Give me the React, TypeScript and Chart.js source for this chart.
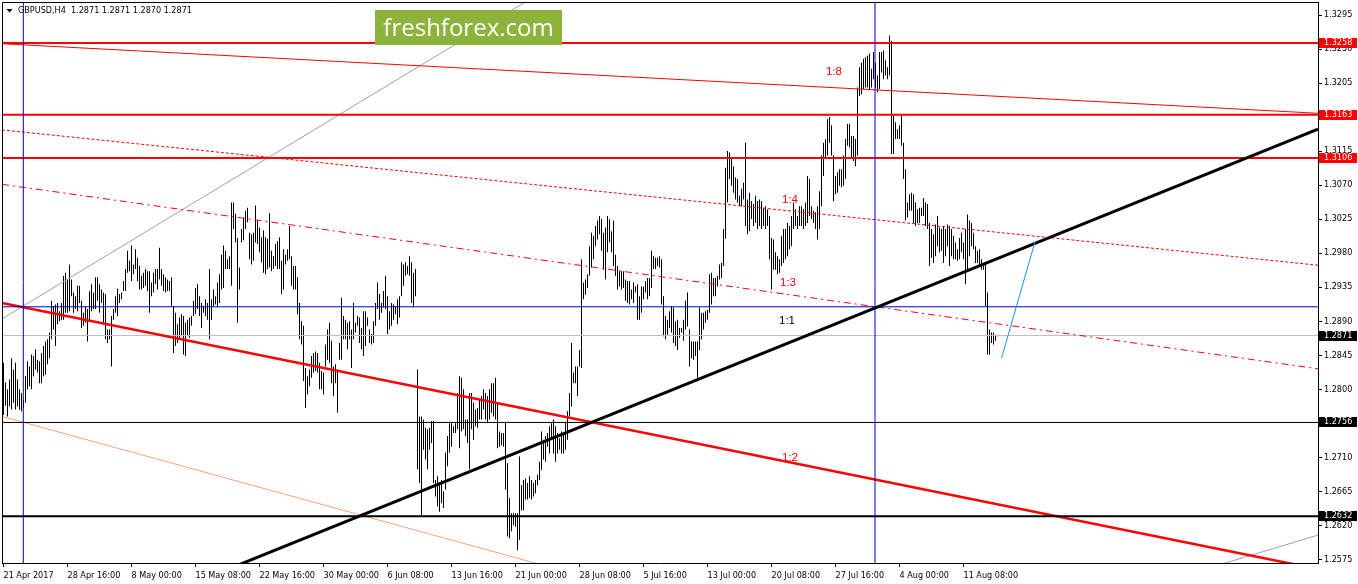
import React, { useEffect, useRef } from "react";
import { Chart, registerables } from "chart.js";

Chart.register(...registerables);

// ---------------- data ----------------
const symbolName = "GBPUSD,H4";
const lastQuote = ["1.2871", "1.2871", "1.2870", "1.2871"];
const watermarkText = "freshforex.com";

const timeLabels = [
  "21 Apr 2017", "28 Apr 16:00", "8 May 00:00", "15 May 08:00", "22 May 16:00", "30 May 00:00",
  "6 Jun 08:00", "13 Jun 16:00", "21 Jun 00:00", "28 Jun 08:00", "5 Jul 16:00", "13 Jul 00:00",
  "20 Jul 08:00", "27 Jul 16:00", "4 Aug 00:00", "11 Aug 08:00",
];
const timeLabelBars = [0, 32, 64, 96, 128, 160, 192, 224, 256, 288, 320, 352, 384, 416, 448, 480];

const priceTicks = [
  1.2575, 1.262, 1.2665, 1.271, 1.2755, 1.28, 1.2845, 1.289, 1.2935, 1.298, 1.3025, 1.307,
  1.3115, 1.316, 1.3205, 1.325, 1.3295,
];

const highs = [
  1.2835,1.2809,1.2800,1.2813,1.2841,1.2826,1.2835,1.2813,1.2800,1.2795,
  1.2786,1.2817,1.2837,1.2830,1.2846,1.2844,1.2853,1.2839,1.2837,1.2848,
  1.2857,1.2863,1.2866,1.2875,1.2917,1.2910,1.2912,1.2914,1.2903,1.2914,
  1.2950,1.2954,1.2945,1.2965,1.2945,1.2928,1.2923,1.2937,1.2937,1.2917,
  1.2901,1.2910,1.2906,1.2930,1.2939,1.2928,1.2948,1.2948,1.2939,1.2932,
  1.2928,1.2926,1.2879,1.2879,1.2897,1.2906,1.2923,1.2933,1.2926,1.2928,
  1.2943,1.2959,1.2983,1.2970,1.2990,1.2965,1.2985,1.2974,1.2963,1.2950,
  1.2954,1.2959,1.2956,1.2956,1.2941,1.2954,1.2959,1.2959,1.2987,1.2959,
  1.2952,1.2948,1.2945,1.2943,1.2948,1.2910,1.2901,1.2886,1.2895,1.2899,
  1.2897,1.2888,1.2892,1.2895,1.2897,1.2917,1.2934,1.2939,1.2923,1.2914,
  1.2910,1.2919,1.2914,1.2959,1.2919,1.2932,1.2923,1.2941,1.2952,1.2978,
  1.2990,1.2983,1.2972,1.2976,1.3047,1.3047,1.3032,1.3000,1.2961,
  1.3012,1.3027,1.3036,1.3040,1.3007,1.3005,1.3007,1.3043,1.3023,1.3014,
  1.3001,1.3010,1.3001,1.2999,1.3033,1.2983,1.2976,1.2992,1.2996,1.3001,
  1.2970,1.2985,1.2978,1.2985,1.3016,1.2976,1.2963,1.2963,1.2948,1.2914,
  1.2890,1.2884,1.2828,1.2817,1.2826,1.2844,1.2848,1.2850,1.2848,1.2835,
  1.2824,1.2822,1.2859,1.2879,1.2888,1.2864,1.2830,1.2833,1.2826,1.2861,
  1.2921,1.2897,1.2892,1.2888,1.2890,1.2879,1.2914,1.2888,1.2897,1.2895,
  1.2881,1.2903,1.2903,1.2895,1.2879,1.2873,1.2890,1.2914,1.2941,1.2926,
  1.2914,1.2930,1.2950,1.2923,1.2903,1.2914,1.2912,1.2910,1.2919,1.2923,
  1.2968,1.2965,1.2968,1.2963,1.2976,1.2968,1.2954,1.2959,1.2826,1.2764,
  1.2764,1.2760,1.2749,1.2747,1.2749,1.2758,1.2758,1.2680,1.2685,1.2676,
  1.2680,1.2665,1.2716,1.2738,1.2755,1.2755,1.2751,1.2755,1.2795,1.2817,
  1.2815,1.2800,1.2760,1.2760,1.2795,1.2795,1.2782,1.2773,1.2775,1.2786,
  1.2791,1.2800,1.2795,1.2791,1.2800,1.2808,1.2808,1.2815,1.2782,
  1.2744,1.2742,1.2742,1.2757,1.2702,1.2656,1.2636,1.2636,1.2636,1.2636,
  1.2711,1.2673,1.2680,1.2682,1.2676,1.2685,1.2680,1.2676,1.2680,1.2687,
  1.2704,1.2744,1.2733,1.2738,1.2742,1.2751,1.2755,1.2760,1.2751,1.2742,
  1.2735,1.2744,1.2740,1.2757,1.2771,1.2795,1.2861,1.2822,1.2830,1.2830,
  1.2852,1.2972,1.2941,1.2945,1.2952,1.2989,1.3007,1.3003,1.3016,1.3023,
  1.3029,1.3025,1.3007,1.3014,1.3029,1.3025,1.3009,1.3023,1.2978,1.2963,
  1.2956,1.2956,1.2956,1.2945,1.2943,1.2943,1.2932,1.2941,1.2936,1.2939,
  1.2923,1.2936,1.2936,1.2943,1.2947,1.2947,1.2983,1.2976,1.2974,1.2974,
  1.2976,1.2972,1.2923,1.2897,1.2892,1.2903,1.2910,1.2908,1.2890,1.2892,
  1.2881,1.2881,1.2892,1.2917,1.2928,1.2879,1.2863,1.2863,1.2863,1.2863,
  1.2908,1.2901,1.2901,1.2903,1.2905,1.2952,1.2954,1.2947,1.2947,1.2950,
  1.2965,1.2967,1.3012,1.3093,1.3115,1.3113,1.3107,1.3095,1.3080,1.3078,
  1.3056,1.3065,1.3073,1.3126,1.3051,
  1.3060,1.3049,1.3045,1.3056,1.3049,1.3051,1.3049,1.3040,1.3042,1.3038,
  1.3029,1.3000,1.2998,1.2981,1.2976,1.2972,1.3003,1.3012,1.3012,1.3020,
  1.3016,1.3029,1.3047,1.3038,1.3029,1.3042,1.3042,1.3038,1.3047,1.3082,
  1.3078,1.3042,1.3036,1.3034,1.3042,1.3062,1.3109,1.3126,1.3131,1.3157,
  1.3160,1.3149,1.3109,1.3082,1.3087,1.3091,1.3091,1.3109,1.3131,1.3151,
  1.3151,1.3135,1.3135,1.3131,1.3199,1.3226,1.3232,1.3237,1.3239,1.3241,
  1.3244,1.3224,1.3246,1.3232,1.3215,1.3246,1.3246,1.3248,1.3235,1.3226,
  1.3268,1.3261,1.3162,1.3153,1.3144,1.3149,1.3164,1.3126,1.3091,1.3047,
  1.3058,1.3060,1.3058,1.3047,1.3038,1.3040,1.3040,1.3053,1.3047,1.3045,
  1.3020,1.3012,1.3005,1.3018,1.3029,1.3014,1.3012,1.3016,1.3012,1.3018,
  1.3016,1.3012,1.3003,1.2994,1.2985,1.3000,1.3007,1.2994,1.3012,1.3031,
  1.3023,1.3020,1.3007,1.2989,1.2983,1.2985,1.2972,1.2967,1.2967,1.2928,
  1.2879,1.2875,1.2875,1.2872,1.2871,
];

const lows = [
  1.2766,1.2778,1.2764,1.2777,1.2773,1.2782,1.2773,1.2777,1.2773,1.2771,
  1.2775,1.2782,1.2800,1.2804,1.2800,1.2817,1.2826,1.2822,1.2808,1.2808,
  1.2817,1.2819,1.2833,1.2841,1.2866,1.2879,1.2857,1.2886,1.2890,1.2892,
  1.2892,1.2901,1.2901,1.2903,1.2923,1.2901,1.2906,1.2903,1.2914,1.2881,
  1.2884,1.2888,1.2863,1.2890,1.2903,1.2906,1.2906,1.2917,1.2901,1.2914,
  1.2886,1.2866,1.2861,1.2866,1.2830,1.2892,1.2901,1.2897,1.2914,1.2919,
  1.2930,1.2930,1.2954,1.2956,1.2943,1.2952,1.2959,1.2943,1.2932,1.2932,
  1.2934,1.2937,1.2930,1.2901,1.2923,1.2928,1.2939,1.2932,1.2945,1.2937,
  1.2930,1.2928,1.2930,1.2930,1.2910,1.2848,1.2857,1.2861,1.2866,1.2870,
  1.2846,1.2844,1.2870,1.2868,1.2884,1.2897,1.2899,1.2906,1.2897,1.2881,
  1.2901,1.2897,1.2892,1.2866,1.2892,1.2910,1.2912,1.2908,1.2914,1.2932,
  1.2934,1.2959,1.2959,1.2959,1.2937,1.3012,1.2994,1.2888,1.2932,
  1.2994,1.2997,1.3012,1.3021,1.2972,1.2965,1.2970,1.2994,1.2992,1.2981,
  1.2968,1.2954,1.2952,1.2959,1.2961,1.2956,1.2959,1.2963,1.2959,1.2959,
  1.2926,1.2932,1.2965,1.2970,1.2972,1.2937,1.2932,1.2932,1.2899,1.2866,
  1.2859,1.2811,1.2775,1.2793,1.2804,1.2815,1.2822,1.2824,1.2822,1.2800,
  1.2800,1.2793,1.2830,1.2839,1.2835,1.2808,1.2791,1.2808,1.2769,1.2839,
  1.2839,1.2866,1.2866,1.2853,1.2866,1.2828,1.2866,1.2875,1.2884,1.2861,
  1.2853,1.2844,1.2857,1.2884,1.2861,1.2859,1.2861,1.2884,1.2906,1.2892,
  1.2901,1.2908,1.2906,1.2873,1.2879,1.2884,1.2892,1.2899,1.2886,1.2895,
  1.2923,1.2937,1.2950,1.2952,1.2950,1.2914,1.2908,1.2923,1.2694,1.2676,
  1.2633,1.2720,1.2707,1.2694,1.2720,1.2729,1.2676,1.2658,1.2645,1.2638,
  1.2649,1.2643,1.2667,1.2698,1.2716,1.2724,1.2742,1.2742,1.2747,1.2722,
  1.2744,1.2747,1.2738,1.2729,1.2694,1.2747,1.2733,1.2751,1.2749,1.2760,
  1.2760,1.2773,1.2760,1.2755,1.2760,1.2769,1.2764,1.2760,1.2722,
  1.2724,1.2726,1.2724,1.2667,1.2605,1.2603,1.2612,1.2620,1.2618,1.2587,
  1.2601,1.2640,1.2640,1.2654,1.2654,1.2656,1.2654,1.2658,1.2662,1.2673,
  1.2680,1.2693,1.2707,1.2704,1.2724,1.2715,1.2733,1.2715,1.2704,1.2715,
  1.2720,1.2715,1.2715,1.2720,1.2733,1.2764,1.2777,1.2808,1.2808,1.2791,
  1.2830,1.2828,1.2919,1.2925,1.2934,1.2950,1.2961,1.2972,1.2989,1.2998,
  1.3005,1.2983,1.2958,1.2945,1.2981,1.2994,1.2981,1.2963,1.2950,1.2932,
  1.2936,1.2932,1.2934,1.2917,1.2914,1.2912,1.2919,1.2914,1.2928,1.2892,
  1.2892,1.2901,1.2919,1.2928,1.2919,1.2923,1.2934,1.2959,1.2959,1.2963,
  1.2961,1.2912,1.2870,1.2866,1.2872,1.2881,1.2875,1.2861,1.2857,1.2852,
  1.2868,1.2875,1.2864,1.2879,1.2883,1.2830,1.2841,1.2839,1.2844,1.2815,
  1.2852,1.2866,1.2879,1.2888,1.2892,1.2901,1.2912,1.2923,1.2923,1.2936,
  1.2945,1.2947,1.2963,1.2999,1.3047,1.3078,1.3069,1.3060,1.3051,1.3047,
  1.3042,1.3042,1.3051,1.3016,1.3005,
  1.3009,1.3025,1.3016,1.3020,1.3012,1.3016,1.3012,1.3016,1.3012,1.3016,
  1.2972,1.2932,1.2958,1.2958,1.2952,1.2954,1.2963,1.2967,1.2972,1.2976,
  1.2985,1.2989,1.3012,1.3016,1.3012,1.3016,1.3016,1.3012,1.3016,1.3020,
  1.3029,1.3025,1.3020,1.3012,1.2998,1.3012,1.3042,1.3082,1.3107,1.3109,
  1.3126,1.3109,1.3049,1.3058,1.3060,1.3069,1.3067,1.3069,1.3078,1.3122,
  1.3120,1.3107,1.3102,1.3095,1.3109,1.3188,1.3190,1.3197,1.3199,1.3199,
  1.3197,1.3199,1.3210,1.3199,1.3193,1.3197,1.3219,1.3210,1.3215,1.3210,
  1.3215,1.3111,1.3111,1.3131,1.3131,1.3131,1.3122,1.3078,1.3023,1.3027,
  1.3036,1.3036,1.3020,1.3016,1.3020,1.3020,1.3029,1.3029,1.3016,1.3012,
  1.2963,1.2974,1.2967,1.2976,1.2989,1.2981,1.2983,1.2967,1.2976,1.2989,
  1.2963,1.2976,1.2972,1.2972,1.2970,1.2972,1.2981,1.2972,1.2939,1.2958,
  1.2976,1.2989,1.2985,1.2967,1.2967,1.2965,1.2958,1.2958,1.2910,1.2846,
  1.2846,1.2861,1.2859,1.2864,1.2870,
];

// horizontal levels, markers, tags (prices / bar indices)
const levelPrices = [1.3258, 1.3163, 1.3106, 1.2756, 1.2632];
const bidPrice = 1.2871;
const ratioOnePrice = 1.2909;
const markerBars = [9.9, 435.75];
const tagPrices = [1.3258, 1.3163, 1.3106, 1.2871, 1.2756, 1.2632];

// sloped lines: [barFrom, priceFrom, barTo, priceTo]
const fan18 = [-0.75, 1.3257, 657.25, 1.3165];
const fan14 = [-0.75, 1.3143, 657.25, 1.2964];
const fan13 = [-0.75, 1.3071, 657.25, 1.2827];
const fan12 = [-0.75, 1.2914, 657.25, 1.2562];
const fanLow = [-0.75, 1.2764, 348.25, 1.251];
const grayUp = [-0.75, 1.2893, 268.25, 1.3324];
const grayLow = [598.25, 1.256, 657.25, 1.2607];
const trendLine = [98.25, 1.2547, 657.25, 1.3144];
const projection = [499, 1.2841, 515.75, 1.2995];

const fanLabelText = ["1:8", "1:4", "1:3", "1:1", "1:2"];
const fanLabelBars = [415.25, 393.25, 392.25, 391.75, 393.25];
const fanLabelPrices = [1.322, 1.305, 1.2941, 1.2891, 1.2709];

// ---------------- styles ----------------
const X_MIN = -0.75;
const X_MAX = 657.25;
const Y_MIN = 1.25701;
const Y_MAX = 1.33122;
const uiFont = '"DejaVu Sans Condensed", "Liberation Sans", Arial, sans-serif';
const RED = "#ff0000";
const BLUE = "#0000cd";
const levelStyles = [
  { color: RED, width: 2 },
  { color: RED, width: 2 },
  { color: RED, width: 2 },
  { color: "#000000", width: 1 },
  { color: "#000000", width: 2 },
];
const tagColors = [RED, RED, RED, "#000000", "#000000", "#000000"];
const fanLabelColors = [RED, RED, RED, "#000000", RED];

function seg(p: number[], color: string, width: number, order: number, dash: number[] = []) {
  return {
    type: "line" as const,
    data: [
      { x: p[0], y: p[1] },
      { x: p[2], y: p[3] },
    ],
    borderColor: color,
    borderWidth: width,
    borderDash: dash,
    pointRadius: 0,
    pointHoverRadius: 0,
    fill: false,
    tension: 0,
    order,
  };
}

const overlayPlugin = {
  id: "mt4Overlay",
  afterDatasetsDraw(chart: any) {
    const { ctx } = chart;
    const x = chart.scales.x;
    const y = chart.scales.y;
    ctx.save();
    ctx.font = '11.5px "Liberation Sans", Arial, sans-serif';
    ctx.textAlign = "center";
    ctx.textBaseline = "middle";
    fanLabelText.forEach((t, i) => {
      ctx.fillStyle = fanLabelColors[i];
      ctx.fillText(t, x.getPixelForValue(fanLabelBars[i]), y.getPixelForValue(fanLabelPrices[i]));
    });
    ctx.restore();
  },
  afterDraw(chart: any) {
    const { ctx, chartArea: a } = chart;
    const y = chart.scales.y;
    ctx.save();
    // frame
    ctx.strokeStyle = "#000";
    ctx.lineWidth = 1;
    ctx.beginPath();
    ctx.moveTo(a.left + 0.5, a.bottom);
    ctx.lineTo(a.left + 0.5, a.top + 0.5);
    ctx.lineTo(a.right, a.top + 0.5);
    ctx.stroke();

    // price tags on axis
    ctx.font = `9px ${uiFont}`;
    ctx.textAlign = "left";
    ctx.textBaseline = "middle";
    tagPrices.forEach((p, i) => {
      const py = Math.round(y.getPixelForValue(p));
      ctx.fillStyle = tagColors[i];
      ctx.fillRect(a.right + 1, py - 5, 38, 10);
      ctx.fillStyle = "#ffffff";
      ctx.fillText(p.toFixed(4), a.right + 6, py);
    });

    // title
    ctx.fillStyle = "#000";
    ctx.beginPath();
    ctx.moveTo(6.5, 9);
    ctx.lineTo(12.5, 9);
    ctx.lineTo(9.5, 12.5);
    ctx.closePath();
    ctx.fill();
    ctx.font = `9px ${uiFont}`;
    ctx.textAlign = "left";
    ctx.textBaseline = "middle";
    ctx.fillText(`${symbolName}  ${lastQuote.join(" ")}`, 18, 11);

    // watermark
    ctx.fillStyle = "#8db33a";
    ctx.fillRect(375, 10, 187, 35);
    ctx.fillStyle = "#ffffff";
    ctx.font = '24px "Open Sans", sans-serif';
    ctx.textAlign = "center";
    ctx.textBaseline = "alphabetic";
    ctx.fillText(watermarkText, 468.5, 36);
    ctx.restore();
  },
};

export default function App() {
  const ref = useRef<HTMLCanvasElement | null>(null);

  useEffect(() => {
    document.body.style.margin = "0";
    const canvas = ref.current;
    if (!canvas) return;

    const barData = highs.map((h, i) => ({ x: i, y: [lows[i], h] }));

    const datasets: any[] = [
      seg(projection, "#1e90ff", 1, 5),
      seg(trendLine, "#000000", 3, 10),
      ...markerBars.map((b) => seg([b, Y_MIN - 0.01, b, Y_MAX + 0.01], BLUE, 1, 15)),
      seg([X_MIN, ratioOnePrice, X_MAX, ratioOnePrice], BLUE, 1, 16),
      ...levelPrices.map((p, i) => seg([X_MIN, p, X_MAX, p], levelStyles[i].color, levelStyles[i].width, 20)),
      seg(fan12, RED, 2.5, 30),
      seg(fan13, RED, 1, 31, [7, 4, 2, 4]),
      seg(fan14, RED, 1, 32, [3, 2]),
      seg(fan18, RED, 1, 33),
      seg(fanLow, "#ffa07a", 1, 34),
      seg([X_MIN, bidPrice, X_MAX, bidPrice], "#c0c0c0", 1, 40),
      seg(grayUp, "#a0a0a0", 1, 41),
      seg(grayLow, "#a0a0a0", 1, 42),
      {
        type: "bar",
        data: barData,
        backgroundColor: "#000000",
        borderWidth: 0,
        barThickness: 1,
        minBarLength: 1,
        inflateAmount: 0,
        order: 100,
      },
    ];

    const chart = new Chart(canvas, {
      type: "bar",
      data: { datasets },
      options: {
        animation: false,
        responsive: false,
        devicePixelRatio: 1,
        events: [],
        layout: { padding: { left: 2, top: 2, right: 0, bottom: 0 } },
        plugins: {
          legend: { display: false },
          tooltip: { enabled: false },
          title: { display: false },
        },
        scales: {
          x: {
            type: "linear",
            min: X_MIN,
            max: X_MAX,
            offset: false,
            bounds: "data",
            grid: {
              display: true,
              drawOnChartArea: false,
              drawTicks: true,
              tickLength: 4,
              tickColor: "#000000",
              offset: false,
            },
            border: { display: true, color: "#000000", width: 1 },
            ticks: {
              autoSkip: false,
              maxRotation: 0,
              minRotation: 0,
              align: "start",
              padding: 3,
              color: "#000000",
              font: { family: uiFont, size: 9 },
              callback: (_v: any, i: number) => timeLabels[i],
            },
            afterBuildTicks: (scale: any) => {
              scale.ticks = timeLabelBars.map((v) => ({ value: v }));
            },
            afterFit: (scale: any) => {
              scale.height = 21;
              scale.paddingLeft = 0;
              scale.paddingRight = 0;
              scale.paddingTop = 0;
              scale.paddingBottom = 0;
            },
          },
          y: {
            type: "linear",
            position: "right",
            min: Y_MIN,
            max: Y_MAX,
            bounds: "data",
            grid: {
              display: true,
              drawOnChartArea: false,
              drawTicks: true,
              tickLength: 4,
              tickColor: "#000000",
            },
            border: { display: true, color: "#000000", width: 1 },
            ticks: {
              autoSkip: false,
              padding: 2,
              color: "#000000",
              font: { family: uiFont, size: 9 },
              callback: (v: any) => Number(v).toFixed(4),
            },
            afterBuildTicks: (scale: any) => {
              scale.ticks = priceTicks.map((v) => ({ value: v }));
            },
            afterFit: (scale: any) => {
              scale.width = 40;
              scale.paddingLeft = 0;
              scale.paddingRight = 0;
              scale.paddingTop = 0;
              scale.paddingBottom = 0;
            },
          },
        },
      } as any,
      plugins: [overlayPlugin],
    } as any);

    return () => chart.destroy();
  }, []);

  return (
    <div style={{ width: 1358, height: 584, position: "relative", background: "#ffffff" }}>
      <canvas ref={ref} width={1358} height={584} style={{ display: "block", width: 1358, height: 584 }} />
    </div>
  );
}
